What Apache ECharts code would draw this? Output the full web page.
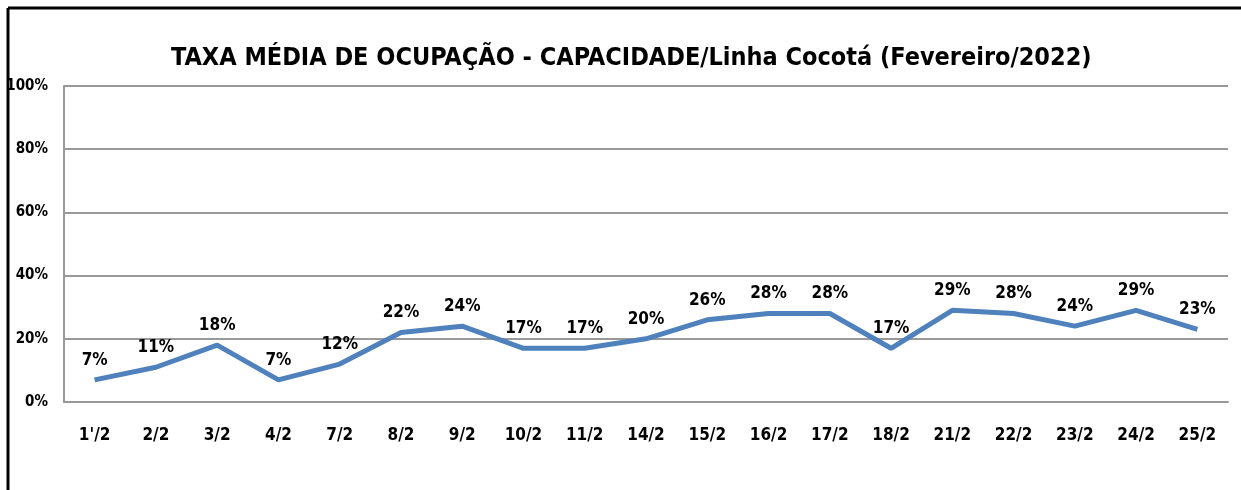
<!DOCTYPE html>
<html>
<head>
<meta charset="utf-8">
<script src="https://cdn.jsdelivr.net/npm/echarts@6/dist/echarts.min.js"></script>
<style>
  html, body { margin: 0; padding: 0; background: #fff; }
  #chart { width: 1241px; height: 490px; }
</style>
</head>
<body>
<div id="chart"></div>
<script>
var titleText = 'TAXA MÉDIA DE OCUPAÇÃO - CAPACIDADE/Linha Cocotá (Fevereiro/2022)';
var days = ["1'/2", '2/2', '3/2', '4/2', '7/2', '8/2', '9/2', '10/2', '11/2', '14/2',
            '15/2', '16/2', '17/2', '18/2', '21/2', '22/2', '23/2', '24/2', '25/2'];
var taxa = [7, 11, 18, 7, 12, 22, 24, 17, 17, 20, 26, 28, 28, 17, 29, 28, 24, 29, 23];
var yTicks = [0, 20, 40, 60, 80, 100];

var font = '"DejaVu Sans Condensed", "Liberation Sans Narrow", sans-serif';
var myChart = echarts.init(document.getElementById('chart'));

var option = {
    animation: false,
    backgroundColor: '#fff',
    textStyle: { fontFamily: font },
    title: {
        text: titleText,
        left: 166,
        top: 41,
        textStyle: { fontFamily: font, fontSize: 25, fontWeight: 'bold', color: '#000' }
    },
    graphic: [
        { type: 'line', shape: { x1: 8, y1: 8, x2: 1241, y2: 8 }, style: { stroke: '#000', lineWidth: 3 } },
        { type: 'line', shape: { x1: 8, y1: 8, x2: 8, y2: 490 }, style: { stroke: '#000', lineWidth: 3 } }
    ],
    grid: { left: 64, right: 13, top: 86, bottom: 88, containLabel: false },
    xAxis: {
        type: 'category',
        data: days,
        boundaryGap: true,
        axisLine: { lineStyle: { color: '#999', width: 2 } },
        axisTick: { show: false },
        axisLabel: { margin: 25, fontFamily: font, fontSize: 17, fontWeight: 'bold', color: '#000' }
    },
    yAxis: {
        type: 'value',
        min: 0,
        max: 100,
        interval: 20,
        axisLine: { show: true, lineStyle: { color: '#999', width: 2 } },
        axisTick: { show: false },
        splitLine: { lineStyle: { color: '#999', width: 2 } },
        axisLabel: {
            margin: 16,
            fontFamily: font, fontSize: 15, fontWeight: 'bold', color: '#000',
            formatter: function (v) { return yTicks.indexOf(v) >= 0 ? v + '%' : ''; }
        }
    },
    series: [{
        type: 'line',
        data: taxa,
        symbol: 'circle',
        symbolSize: 0,
        showSymbol: true,
        lineStyle: { color: '#4F81BD', width: 5 },
        itemStyle: { color: '#4F81BD' },
        label: {
            show: true,
            position: 'top',
            distance: 11,
            fontFamily: font, fontSize: 17, fontWeight: 'bold', color: '#000',
            formatter: '{c}%'
        }
    }]
};

myChart.setOption(option);
</script>
</body>
</html>
